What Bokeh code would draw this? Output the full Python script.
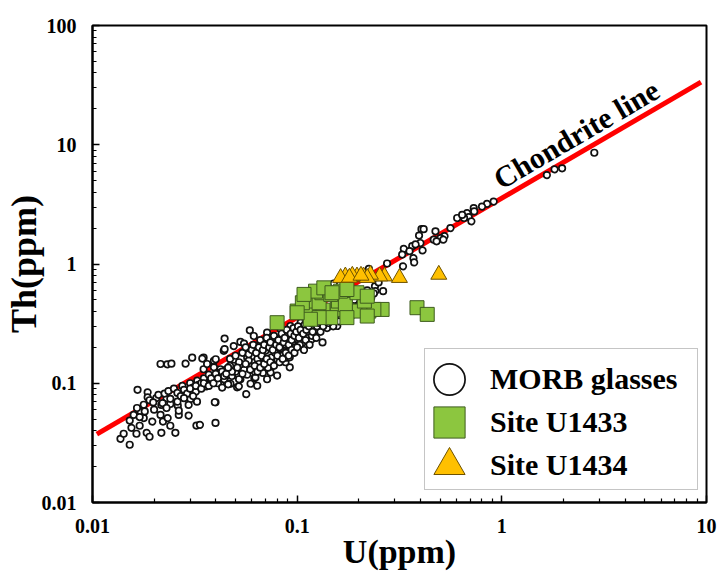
from bokeh.plotting import figure
from bokeh.models import Range1d, Legend, LegendItem, Label, FixedTicker, CustomJSTickFormatter
from bokeh.embed import file_html
from bokeh.resources import INLINE

# ---------------- data ----------------
x_ticks = [0.01, 0.1, 1, 10]
x_tick_labels = ["0.01", "0.1", "1", "10"]
y_ticks = [0.01, 0.1, 1, 10, 100]
y_tick_labels = ["0.01", "0.1", "1", "10", "100"]

# Chondrite line (Th/U ~ 3.56)
chondrite_u = [0.0105, 9.4]
chondrite_th = [0.0375, 33.5]

# MORB glasses
morb_u = [
    0.0166, 0.0215, 0.0232, 0.0243, 0.0285, 0.0152, 0.0137, 0.0142, 0.0155, 0.0164,
    0.0170, 0.0184, 0.0190, 0.0217, 0.0254, 0.0322, 0.0335, 0.0399, 0.0240, 0.0221,
    0.0233, 0.0178, 0.0152, 0.0159, 0.0172, 0.0215, 0.0264, 0.0295, 0.0196, 0.0261,
    0.0264, 0.0217, 0.0186, 0.0186, 0.0230, 0.0240, 0.0399, 0.0324, 0.0301, 0.0290,
    0.0307, 0.0349, 0.0392, 0.0438, 0.0509, 0.0564, 0.0618, 0.0396, 0.0295, 0.0442,
    0.0587, 0.0528, 0.0442, 0.115, 0.106, 0.0962, 0.092, 0.0625, 0.0344, 0.040,
    0.0349, 0.0713, 0.0755, 0.0798, 0.0877, 0.0638, 0.0519, 0.0455, 0.0377, 0.0927,
    0.086, 0.0798, 0.089, 0.070, 0.0662, 0.0614, 0.057, 0.055, 0.049, 0.0464,
    0.0422, 0.0392, 0.0363, 0.0528, 0.0713, 0.0741, 0.0798, 0.0422, 0.0592, 0.0472,
    0.0614, 0.0713, 0.083, 0.0927, 0.104, 0.0662, 0.0767, 0.055, 0.049, 0.120,
    0.157, 0.118,
    0.0165, 0.0178, 0.019, 0.0205, 0.0198, 0.021, 0.0225, 0.0235, 0.025, 0.026,
    0.0275, 0.028, 0.030, 0.031, 0.0325, 0.033, 0.035, 0.034, 0.036, 0.038,
    0.037, 0.040, 0.041, 0.042, 0.044, 0.045, 0.043, 0.046, 0.048, 0.050,
    0.047, 0.052, 0.055, 0.053, 0.057, 0.058, 0.060, 0.062, 0.064, 0.065,
    0.067, 0.070, 0.072, 0.068, 0.075, 0.078, 0.080, 0.083, 0.085, 0.088,
    0.090, 0.092, 0.095, 0.098, 0.100, 0.103, 0.105, 0.108, 0.110, 0.113,
    0.115, 0.118, 0.120, 0.124, 0.126, 0.130, 0.133, 0.136, 0.140, 0.145,
    0.150, 0.155, 0.160, 0.165, 0.170, 0.175, 0.180, 0.190, 0.200, 0.210,
    0.220, 0.230, 0.240, 0.250,
    0.047, 0.050, 0.052, 0.054, 0.056, 0.058, 0.060, 0.061, 0.063, 0.065,
    0.066, 0.068, 0.069, 0.071, 0.073, 0.074, 0.076, 0.077, 0.079, 0.081,
    0.082, 0.084, 0.086, 0.087, 0.089, 0.091, 0.093, 0.094, 0.096, 0.097,
    0.099, 0.101, 0.102, 0.104, 0.107, 0.109, 0.111, 0.112, 0.114, 0.117,
    0.119, 0.122, 0.125, 0.128, 0.131, 0.134, 0.138, 0.142, 0.147, 0.152,
    0.048, 0.051, 0.054, 0.056, 0.059, 0.062, 0.064, 0.066, 0.069, 0.071,
    0.074, 0.077, 0.080, 0.082, 0.085, 0.088, 0.091, 0.094, 0.097, 0.100,
    0.026, 0.027, 0.029, 0.030, 0.032, 0.032, 0.034, 0.035, 0.037, 0.038,
    0.039, 0.040, 0.041, 0.043, 0.044, 0.045, 0.046, 0.020, 0.022, 0.024,
    0.018, 0.017, 0.023, 0.028, 0.031,
    0.912, 0.847, 0.800, 0.729, 0.733, 0.677, 0.689, 0.654, 0.710, 0.605,
    0.640, 0.561, 0.525, 0.502, 0.474, 0.465, 0.480, 0.518, 0.405, 0.415,
    0.394, 0.400, 0.365, 0.379, 0.410, 0.332, 0.326, 0.354, 0.370, 0.373,
    0.329, 0.275, 0.224, 0.241, 0.263, 0.237, 0.151, 2.83, 1.66, 1.81,
    1.97,
]
morb_th = [
    0.088, 0.145, 0.144, 0.146, 0.146, 0.0305, 0.0342, 0.0377, 0.0423, 0.0377,
    0.044, 0.0384, 0.0356, 0.0384, 0.0384, 0.0442, 0.0448, 0.0465, 0.044, 0.0477,
    0.051, 0.051, 0.0486, 0.0543, 0.0578, 0.0543, 0.0543, 0.0536, 0.0477, 0.0649,
    0.0589, 0.0658, 0.084, 0.0762, 0.0748, 0.067, 0.0693, 0.0701, 0.0738, 0.084,
    0.164, 0.164, 0.154, 0.187, 0.0924, 0.081, 0.11, 0.0693, 0.0658, 0.237,
    0.278, 0.222, 0.193, 0.226, 0.219, 0.181, 0.136, 0.112, 0.161, 0.159,
    0.131, 0.131, 0.14, 0.159, 0.15, 0.0953, 0.0942, 0.116, 0.108, 0.241,
    0.193, 0.175, 0.164, 0.187, 0.164, 0.15, 0.164, 0.136, 0.14, 0.127,
    0.131, 0.136, 0.145, 0.108, 0.108, 0.123, 0.116, 0.099, 0.099, 0.099,
    0.249, 0.266, 0.285, 0.302, 0.322, 0.215, 0.215, 0.215, 0.205, 0.258,
    0.302, 0.234,
    0.062, 0.066, 0.072, 0.075, 0.069, 0.080, 0.082, 0.086, 0.090, 0.083,
    0.095, 0.088, 0.100, 0.092, 0.105, 0.097, 0.110, 0.100, 0.094, 0.105,
    0.118, 0.112, 0.100, 0.122, 0.108, 0.130, 0.092, 0.098, 0.115, 0.125,
    0.140, 0.108, 0.130, 0.145, 0.118, 0.155, 0.138, 0.125, 0.160, 0.145,
    0.170, 0.150, 0.135, 0.122, 0.165, 0.180, 0.158, 0.195, 0.170, 0.210,
    0.185, 0.165, 0.220, 0.200, 0.235, 0.210, 0.250, 0.190, 0.230, 0.270,
    0.210, 0.250, 0.290, 0.240, 0.310, 0.270, 0.220, 0.330, 0.290, 0.350,
    0.300, 0.380, 0.330, 0.420, 0.370, 0.460, 0.400, 0.500, 0.450, 0.550,
    0.600, 0.520, 0.650, 0.700,
    0.160, 0.170, 0.150, 0.180, 0.200, 0.175, 0.190, 0.210, 0.180, 0.200,
    0.230, 0.190, 0.210, 0.240, 0.200, 0.220, 0.190, 0.250, 0.210, 0.230,
    0.200, 0.260, 0.220, 0.240, 0.280, 0.210, 0.260, 0.230, 0.290, 0.250,
    0.270, 0.300, 0.240, 0.280, 0.260, 0.310, 0.280, 0.330, 0.300, 0.320,
    0.270, 0.340, 0.300, 0.320, 0.360, 0.300, 0.370, 0.320, 0.400, 0.360,
    0.125, 0.135, 0.120, 0.145, 0.130, 0.140, 0.125, 0.135, 0.145, 0.160,
    0.150, 0.140, 0.170, 0.150, 0.160, 0.180, 0.170, 0.190, 0.180, 0.200,
    0.070, 0.078, 0.082, 0.090, 0.085, 0.095, 0.090, 0.100, 0.095, 0.110,
    0.100, 0.120, 0.110, 0.125, 0.115, 0.120, 0.135, 0.060, 0.068, 0.074,
    0.058, 0.052, 0.062, 0.075, 0.078,
    3.34, 3.19, 3.03, 2.94, 2.76, 2.67, 2.47, 2.43, 2.28, 2.43,
    2.58, 2.00, 1.71, 1.65, 1.88, 1.60, 1.55, 1.60, 1.96, 1.96,
    1.73, 1.50, 1.41, 1.46, 1.30, 1.34, 1.20, 1.28, 1.12, 1.03,
    0.957, 1.01, 0.91, 0.592, 0.592, 0.566, 0.686, 8.57, 5.57, 6.22,
    6.34,
]

# Site U1433
u1433_u = [0.0798, 0.100, 0.114, 0.134, 0.157, 0.177, 0.200, 0.224, 0.260, 0.237,
           0.146, 0.128, 0.116, 0.128, 0.106, 0.159, 0.172, 0.213, 0.132, 0.123,
           0.146, 0.163, 0.196, 0.220, 0.135, 0.175, 0.385, 0.432, 0.175, 0.220,
           0.108, 0.116, 0.100, 0.148]
u1433_th = [0.322, 0.403, 0.403, 0.410, 0.416, 0.403, 0.403, 0.403, 0.416, 0.416,
            0.355, 0.355, 0.489, 0.473, 0.473, 0.489, 0.458, 0.489, 0.574, 0.592,
            0.556, 0.592, 0.574, 0.537, 0.631, 0.611, 0.430, 0.378, 0.355, 0.366,
            0.556, 0.344, 0.390, 0.574]

# Site U1434
u1434_u = [0.492, 0.316, 0.267, 0.253, 0.211, 0.228, 0.196, 0.186, 0.172, 0.163,
           0.220, 0.180, 0.205]
u1434_th = [0.815, 0.766, 0.789, 0.789, 0.789, 0.815, 0.789, 0.800, 0.789, 0.766,
            0.766, 0.770, 0.800]

legend_labels = ["MORB glasses", "Site U1433", "Site U1434"]
line_label = "Chondrite line"
line_label_u, line_label_th = 2.31, 12.25

SERIF = "Liberation Serif"

# ---------------- figure ----------------
p = figure(width=717, height=572, x_axis_type="log", y_axis_type="log",
           x_range=Range1d(0.01, 10), y_range=Range1d(0.01, 100),
           output_backend="svg", toolbar_location=None,
           min_border_left=92, min_border_right=11, min_border_top=25, min_border_bottom=68,
           background_fill_color="white", border_fill_color="white")

p.xgrid.visible = False
p.ygrid.visible = False
p.outline_line_color = "black"
p.outline_line_width = 2
p.outline_line_alpha = 1

fmt_code = """
for (let i = 0; i < tv.length; i++) {
  if (Math.abs(Math.log10(tv[i]) - Math.log10(tick)) < 1e-6) return tl[i];
}
return '';
"""
p.xaxis.ticker = FixedTicker(ticks=x_ticks,
                             minor_ticks=[m * t for t in x_ticks[:-1] for m in range(2, 10)])
p.yaxis.ticker = FixedTicker(ticks=y_ticks,
                             minor_ticks=[m * t for t in y_ticks[:-1] for m in range(2, 10)])
p.xaxis.formatter = CustomJSTickFormatter(args=dict(tv=x_ticks, tl=x_tick_labels), code=fmt_code)
p.yaxis.formatter = CustomJSTickFormatter(args=dict(tv=y_ticks, tl=y_tick_labels), code=fmt_code)

p.xaxis.axis_label = "U(ppm)"
p.yaxis.axis_label = "Th(ppm)"

for ax in (p.xaxis[0], p.yaxis[0]):
    ax.major_label_text_font = SERIF
    ax.major_label_text_font_style = "bold"
    ax.major_label_text_font_size = "20px"
    ax.major_label_text_color = "black"
    ax.axis_label_text_font = SERIF
    ax.axis_label_text_font_style = "bold"
    ax.axis_label_text_color = "black"
    ax.major_tick_in = 7
    ax.major_tick_out = 0
    ax.minor_tick_in = 4
    ax.minor_tick_out = 0
    ax.axis_line_width = 2
    ax.axis_line_color = "black"
    ax.major_tick_line_width = 1.5
    ax.major_tick_line_color = "black"
    ax.minor_tick_line_width = 1.2
    ax.minor_tick_line_color = "black"

p.xaxis.axis_label_text_font_size = "34px"
p.yaxis.axis_label_text_font_size = "36px"
p.xaxis.major_label_standoff = 16
p.yaxis.major_label_standoff = 16
p.xaxis.axis_label_standoff = -3
p.yaxis.axis_label_standoff = -5

# ---------------- marks ----------------
p.line(chondrite_u, chondrite_th, line_color="#FF0000", line_width=5)

morb_r = p.scatter(morb_u, morb_th, marker="circle", size=6.5,
                   fill_color="white", line_color="#111111", line_width=1.7)
u1433_r = p.scatter(u1433_u, u1433_th, marker="square", size=14,
                    fill_color="#8CC63F", line_color="#3E5C1E", line_width=1)
u1434_r = p.scatter(u1434_u, u1434_th, marker="triangle", size=16,
                    fill_color="#FFC000", line_color="#6E5200", line_width=1)

p.add_layout(Label(x=line_label_u, y=line_label_th, text=line_label, angle=0.5295,
                   text_align="center", text_baseline="middle",
                   text_font=SERIF, text_font_style="bold", text_font_size="30px",
                   text_color="black"))

# legend frame
frame_legend = Legend(items=[LegendItem(label=" ", renderers=[])],
                      location=(332, 12), glyph_width=1, glyph_height=140,
                      label_width=271, label_height=140, label_standoff=0,
                      padding=0, margin=0,
                      border_line_color="#8c8c8c", border_line_width=1.5,
                      background_fill_color="white", background_fill_alpha=1)
p.add_layout(frame_legend)

# legend entries (one per row so that the markers can be drawn large)
for lab, rend, vy in zip(legend_labels, [morb_r, u1433_r, u1434_r], [84, 41, -2]):
    p.add_layout(Legend(items=[LegendItem(label=lab, renderers=[rend])],
                        location=(318, vy), glyph_width=78, glyph_height=78,
                        padding=0, margin=0, label_standoff=2,
                        label_text_font=SERIF, label_text_font_style="bold",
                        label_text_font_size="30px", label_text_color="black",
                        border_line_alpha=0, background_fill_alpha=0))

open("out.html", "w").write(file_html(p, INLINE))
